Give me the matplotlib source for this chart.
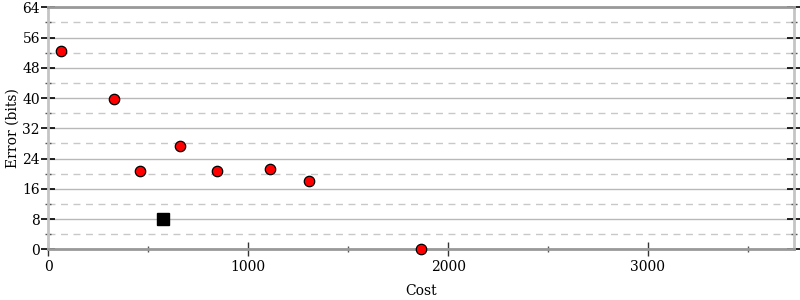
import numpy as np
import matplotlib
matplotlib.use('Agg')
import matplotlib.pyplot as plt
from matplotlib.ticker import MultipleLocator

# data
cost = [63, 328, 457, 657, 845, 1110, 1305, 1864]
error_bits = [52.5, 39.7, 20.7, 27.4, 20.8, 21.3, 18.1, 0.0]
best_cost = [573]
best_error = [8.0]

plt.rcParams['font.family'] = 'DejaVu Serif'
plt.rcParams['font.size'] = 10

fig = plt.figure(figsize=(8, 3), dpi=100)
ax = fig.add_axes([0.0604, 0.169, 0.932, 0.8067])

# grid: solid for major, dashed for minor
ax.yaxis.set_major_locator(MultipleLocator(8))
ax.yaxis.set_minor_locator(MultipleLocator(4))
ax.xaxis.set_major_locator(MultipleLocator(1000))
ax.xaxis.set_minor_locator(MultipleLocator(500))
ax.grid(which='major', axis='y', color='#b8b8b8', lw=1, ls='-')
ax.grid(which='minor', axis='y', color='#c8c8c8', lw=1, ls=(0, (5, 4)))
ax.set_axisbelow(True)

ax.plot(cost, error_bits, 'o', ms=7.5, mfc='#ff0000', mec='black',
        mew=0.9, zorder=3, clip_on=False)
ax.plot(best_cost, best_error, 's', ms=8, mfc='black', mec='black',
        zorder=3, clip_on=False)

ax.set_xlim(0, 3730)
ax.set_ylim(0, 64)

for side in ['top', 'bottom']:
    ax.spines[side].set_color('#999999')
    ax.spines[side].set_linewidth(2)
for side in ['left', 'right']:
    ax.spines[side].set_color('#c4c4c4')
    ax.spines[side].set_linewidth(2)

ax.tick_params(axis='y', which='major', direction='inout', length=10,
               width=1.2, color='black', left=True, right=True, pad=1)
ax.tick_params(axis='y', which='minor', direction='inout', length=5,
               width=1, color='#555555', left=True, right=True)
ax.tick_params(axis='x', which='major', direction='inout', length=10,
               width=1, color='#333333', pad=3)
ax.tick_params(axis='x', which='minor', direction='inout', length=5,
               width=1, color='#555555')

ax.set_xlabel('Cost', labelpad=7)
ax.set_ylabel('Error (bits)', labelpad=2)

fig.savefig('out.png', dpi=100)
